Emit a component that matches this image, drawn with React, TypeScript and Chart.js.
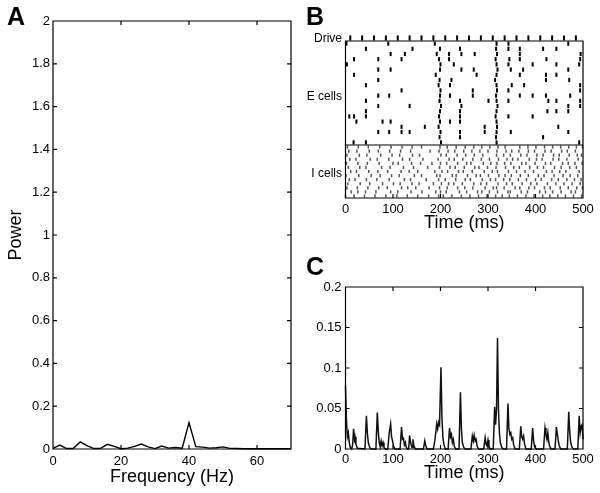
import React, { useEffect, useRef } from 'react';
import { Chart, registerables } from 'chart.js';

Chart.register(...registerables);

const FONT = '"Liberation Sans", Arial, Helvetica, sans-serif';
Chart.defaults.font.family = FONT;
Chart.defaults.color = '#000';

// ---------------- Panel A: power spectrum ----------------
const freqHz = [0, 2, 4, 6, 8, 10, 12, 14, 16, 18, 20, 22, 24, 26, 28, 30, 32, 34, 36, 38, 40, 42, 44, 46, 48, 50, 52, 54, 56, 58, 60, 62, 64, 66, 68, 70];
const power = [0.003, 0.018, 0.002, 0.003, 0.033, 0.016, 0.002, 0.003, 0.022, 0.012, 0.001, 0.004, 0.012, 0.023, 0.01, 0.002, 0.014, 0.004, 0.007, 0.004, 0.123, 0.011, 0.009, 0.004, 0.006, 0.01, 0.003, 0.002, 0.001, 0.001, 0.001, 0.001, 0.001, 0.001, 0.001, 0.001];
const freqTicks = [0, 20, 40, 60];
const powerTicks = [0, 0.2, 0.4, 0.6, 0.8, 1, 1.2, 1.4, 1.6, 1.8, 2];
const powerTickLabels = ['0', '0.2', '0.4', '0.6', '0.8', '1', '1.2', '1.4', '1.6', '1.8', '2'];

// ---------------- Panel B: raster ----------------
const driveTimes = [10, 35, 60, 85, 110, 135, 160, 185, 210, 235, 260, 285, 310, 335, 360, 385, 410, 435, 460, 485];
const eSpikeRows: number[][] = [
  [2, 90, 188, 318, 343, 469],
  [43, 141, 199, 241, 317, 343, 367, 416, 444],
  [95, 125, 192, 218, 244, 272, 319, 367, 495],
  [18, 69, 118, 197, 218, 316, 345, 367, 423, 494],
  [3, 200, 228, 318, 343, 394, 444, 492],
  [69, 95, 199, 244, 270, 320, 348, 374, 469],
  [18, 190, 276, 318, 367, 422, 444],
  [69, 198, 223, 315, 422, 471],
  [43, 196, 220, 318, 350, 376, 494],
  [118, 200, 268, 319, 343, 494],
  [69, 92, 199, 220, 268, 317, 367, 394, 422, 473],
  [43, 198, 241, 301, 318, 343, 427, 444, 494],
  [69, 135, 201, 244, 320, 469, 494],
  [43, 199, 241, 318, 425, 444, 469],
  [8, 18, 43, 197, 241, 316, 343, 394],
  [23, 78, 95, 199, 220, 241, 318],
  [118, 167, 196, 293, 319, 448],
  [69, 92, 118, 135, 200, 241, 293, 318, 348, 469],
  [198, 241, 317, 416],
  [17, 43, 201, 318, 492],
];
const iSpikeRows: number[][] = [
  [4, 27, 48, 72, 96, 119, 140, 160, 199, 214, 233, 252, 270, 287, 304, 321, 336, 367, 384, 401, 419, 436, 453, 470, 486, 499],
  [7, 24, 50, 69, 93, 116, 137, 178, 197, 216, 230, 249, 266, 283, 300, 319, 338, 350, 365, 385, 398, 420, 433, 455, 467, 484],
  [3, 29, 45, 74, 98, 114, 141, 156, 201, 212, 235, 253, 271, 289, 318, 333, 347, 369, 382, 403, 416, 438, 450, 471, 488, 497],
  [9, 22, 52, 67, 91, 120, 135, 163, 195, 218, 229, 247, 268, 286, 303, 322, 340, 352, 363, 387, 402, 414, 437, 449, 466, 490],
  [2, 26, 46, 71, 100, 111, 139, 158, 182, 200, 213, 236, 255, 264, 290, 306, 319, 335, 348, 371, 380, 399, 421, 432, 457, 469, 483, 498],
  [6, 30, 43, 76, 94, 122, 143, 173, 198, 220, 231, 250, 272, 281, 299, 317, 337, 354, 366, 388, 404, 417, 440, 454, 472, 486],
  [11, 23, 49, 68, 89, 117, 134, 152, 188, 203, 215, 238, 248, 267, 292, 309, 320, 343, 360, 378, 396, 423, 435, 451, 464, 492],
  [1, 28, 54, 73, 97, 113, 145, 160, 192, 199, 225, 233, 257, 275, 284, 301, 323, 336, 349, 368, 385, 406, 418, 439, 458, 473, 489],
  [8, 20, 44, 66, 92, 124, 137, 170, 196, 210, 232, 252, 263, 288, 305, 316, 333, 346, 364, 381, 400, 412, 434, 448, 466, 482, 496],
  [5, 31, 51, 78, 101, 115, 140, 155, 185, 202, 217, 228, 246, 270, 285, 297, 321, 339, 351, 372, 390, 403, 425, 443, 460, 477, 494],
  [3, 25, 47, 70, 88, 118, 131, 148, 176, 198, 214, 236, 251, 268, 294, 311, 318, 334, 357, 367, 386, 398, 419, 431, 452, 469, 487, 499],
  [12, 26, 42, 64, 95, 110, 138, 161, 190, 200, 212, 240, 255, 278, 287, 303, 320, 342, 347, 370, 383, 409, 421, 436, 454, 475, 484],
  [0, 18, 40, 62, 85, 108, 130, 152, 175, 196, 206, 224, 244, 262, 280, 298, 316, 330, 345, 362, 380, 397, 415, 430, 447, 463, 480, 497],
];
const rasterLabels = ['I cells', 'E cells', 'Drive'];
const timeTicks = [0, 100, 200, 300, 400, 500];

// ---------------- Panel C: population trace ----------------
const lfpTime = [0, 2, 4, 6, 8, 10, 13, 15, 17, 19, 20, 22, 25, 41, 44, 46, 48, 51, 54, 64, 67, 69, 71, 73, 75, 77, 79, 81, 84, 89, 92, 95, 97, 99, 101, 104, 115, 118, 120, 122, 124, 126, 128, 131, 133, 135, 137, 140, 142, 144, 147, 164, 167, 169, 172, 185, 188, 190, 192, 194, 196, 198, 201, 203, 205, 207, 210, 216, 219, 221, 223, 225, 227, 229, 232, 239, 242, 244, 246, 249, 252, 264, 267, 269, 271, 273, 275, 277, 280, 291, 294, 296, 298, 300, 302, 305, 311, 314, 316, 318, 320, 322, 324, 326, 329, 332, 339, 342, 344, 346, 348, 350, 352, 354, 357, 366, 369, 371, 373, 375, 377, 380, 391, 394, 396, 398, 401, 417, 420, 422, 424, 426, 428, 430, 433, 441, 444, 446, 448, 450, 453, 467, 470, 472, 474, 477, 480, 489, 492, 494, 496, 498, 500];
const lfpValue = [0.078, 0.035, 0.015, 0.02, 0.008, 0.002, 0, 0.005, 0.025, 0.012, 0.015, 0.006, 0.001, 0, 0.041, 0.02, 0.008, 0.002, 0, 0, 0.045, 0.022, 0.008, 0.003, 0.01, 0.004, 0.008, 0.002, 0, 0, 0.02, 0.031, 0.015, 0.01, 0.004, 0, 0, 0.027, 0.012, 0.013, 0.005, 0.008, 0.002, 0, 0, 0.017, 0.008, 0.002, 0.012, 0.004, 0, 0, 0.01, 0.004, 0, 0, 0.01, 0.02, 0.031, 0.025, 0.033, 0.03, 0.101, 0.04, 0.015, 0.006, 0, 0, 0.026, 0.015, 0.018, 0.008, 0.012, 0.003, 0, 0, 0.07, 0.025, 0.008, 0.002, 0, 0, 0.016, 0.01, 0.017, 0.01, 0.012, 0.004, 0, 0, 0.014, 0.006, 0.004, 0.011, 0.003, 0, 0, 0.052, 0.03, 0.05, 0.137, 0.05, 0.02, 0.008, 0.002, 0, 0, 0.056, 0.025, 0.018, 0.02, 0.012, 0.014, 0.005, 0, 0, 0.028, 0.015, 0.012, 0.016, 0.006, 0, 0, 0.026, 0.01, 0.003, 0, 0, 0.026, 0.018, 0.012, 0.02, 0.008, 0.003, 0, 0, 0.027, 0.018, 0.01, 0.004, 0, 0, 0.046, 0.022, 0.008, 0.002, 0, 0, 0.041, 0.02, 0.028, 0.03, 0.012];
const lfpTicks = [0, 0.05, 0.1, 0.15, 0.2];
const lfpTickLabels = ['0', '0.05', '0.1', '0.15', '0.2'];

// ---------------- plugins ----------------
const boxPlugin = {
  id: 'box',
  afterDatasetsDraw(chart: any, _args: any, opts: any) {
    const { ctx, chartArea: ca } = chart;
    const xs = chart.scales.x;
    const ys = chart.scales.y;
    const top = opts.topValue !== undefined ? ys.getPixelForValue(opts.topValue) : ca.top;
    const L = 4;
    ctx.save();
    ctx.strokeStyle = '#000';
    ctx.lineWidth = 1.2;
    ctx.beginPath();
    ctx.moveTo(ca.left, top);
    ctx.lineTo(ca.right, top);
    ctx.lineTo(ca.right, ca.bottom);
    ctx.lineTo(ca.left, ca.bottom);
    ctx.closePath();
    (opts.lines || []).forEach((v: number) => {
      const py = ys.getPixelForValue(v);
      ctx.moveTo(ca.left, py);
      ctx.lineTo(ca.right, py);
    });
    xs.ticks.forEach((t: any) => {
      const px = xs.getPixelForValue(t.value);
      ctx.moveTo(px, ca.bottom);
      ctx.lineTo(px, ca.bottom - L);
      if (opts.topTicks) {
        ctx.moveTo(px, top);
        ctx.lineTo(px, top + L);
      }
    });
    if (opts.yTicks) {
      ys.ticks.forEach((t: any) => {
        const py = ys.getPixelForValue(t.value);
        ctx.moveTo(ca.left, py);
        ctx.lineTo(ca.left + L, py);
        ctx.moveTo(ca.right, py);
        ctx.lineTo(ca.right - L, py);
      });
    }
    ctx.stroke();
    ctx.restore();
  },
};

const letterPlugin = {
  id: 'letter',
  afterDraw(chart: any, _args: any, opts: any) {
    const { ctx } = chart;
    ctx.save();
    ctx.fillStyle = '#000';
    ctx.font = `bold 25px ${FONT}`;
    ctx.textAlign = 'left';
    ctx.textBaseline = 'alphabetic';
    ctx.fillText(opts.text, opts.x, opts.y);
    ctx.restore();
  },
};

function fixedTicks(values: number[]) {
  return (axis: any) => {
    axis.ticks = values.map((v) => ({ value: v }));
  };
}

function baseOptions() {
  return {
    responsive: false,
    animation: false as const,
    events: [] as any[],
  };
}

function makeConfigA(): any {
  return {
    type: 'line',
    data: {
      datasets: [
        {
          data: freqHz.map((f, i) => ({ x: f, y: power[i] })),
          borderColor: '#000',
          borderWidth: 1.4,
          pointRadius: 0,
          tension: 0,
          clip: false,
        },
      ],
    },
    options: {
      ...baseOptions(),
      layout: { padding: { left: 0, right: 9, top: 21, bottom: 0 } },
      plugins: {
        legend: { display: false },
        tooltip: { enabled: false },
        box: { yTicks: true, topTicks: true },
        letter: { text: 'A', x: 7, y: 25 },
      },
      scales: {
        x: {
          type: 'linear',
          min: 0,
          max: 70,
          afterBuildTicks: fixedTicks(freqTicks),
          afterFit: (s: any) => { s.height = 44; },
          grid: { display: false, drawTicks: false },
          border: { display: false },
          ticks: { font: { size: 13 }, padding: 5, maxRotation: 0, callback: (v: any) => String(v) },
          title: { display: true, text: 'Frequency (Hz)', font: { size: 18 }, padding: { top: 0, bottom: 5 } },
        },
        y: {
          type: 'linear',
          min: 0,
          max: 2,
          afterBuildTicks: fixedTicks(powerTicks),
          afterFit: (s: any) => { s.width = 53; },
          grid: { display: false, drawTicks: false },
          border: { display: false },
          ticks: { font: { size: 13 }, padding: 3, callback: (_v: any, i: number) => powerTickLabels[i] },
          title: { display: true, text: 'Power', font: { size: 18 }, padding: { top: 5, bottom: 0 } },
        },
      },
    },
    plugins: [boxPlugin, letterPlugin],
  };
}

// raster vertical layout (scale units)
const B_MAX = 163;
const E_TOP = 157;
const I_TOP = 53;
const E_ROW_H = (E_TOP - I_TOP) / eSpikeRows.length;
const I_ROW_H = I_TOP / iSpikeRows.length;
const DRIVE_Y = 160;
const rasterLabelValues = [24, 101, 159];

function makeConfigB(): any {
  const ePoints: { x: number; y: number }[] = [];
  eSpikeRows.forEach((row, i) => row.forEach((t) => ePoints.push({ x: t, y: E_TOP - (i + 0.5) * E_ROW_H })));
  const iPoints: { x: number; y: number }[] = [];
  iSpikeRows.forEach((row, k) => row.forEach((t) => iPoints.push({ x: t, y: I_TOP - (k + 0.5) * I_ROW_H })));
  const drivePoints = driveTimes.map((t) => ({ x: t, y: DRIVE_Y }));
  const mark = (color: string, r: number, w: number) => ({
    showLine: false,
    pointStyle: 'line',
    pointRotation: 90,
    pointRadius: r,
    pointBorderWidth: w,
    pointBorderColor: color,
    pointBackgroundColor: color,
    borderColor: color,
    clip: false,
  });
  return {
    type: 'scatter',
    data: {
      datasets: [
        { data: drivePoints, ...mark('#000', 2.6, 2) },
        { data: ePoints, ...mark('#000', 2.1, 2) },
        { data: iPoints, ...mark('#555', 1.6, 1.5) },
      ],
    },
    options: {
      ...baseOptions(),
      layout: { padding: { left: 0, right: 17, top: 35, bottom: 0 } },
      plugins: {
        legend: { display: false },
        tooltip: { enabled: false },
        box: { topValue: E_TOP, lines: [I_TOP], yTicks: false, topTicks: false },
        letter: { text: 'B', x: 6, y: 25 },
      },
      scales: {
        x: {
          type: 'linear',
          min: 0,
          max: 500,
          afterBuildTicks: fixedTicks(timeTicks),
          afterFit: (s: any) => { s.height = 42; },
          grid: { display: false, drawTicks: false },
          border: { display: false },
          ticks: { font: { size: 13 }, padding: 4, maxRotation: 0, callback: (v: any) => String(v) },
          title: { display: true, text: 'Time (ms)', font: { size: 18 }, padding: { top: 0, bottom: 6 } },
        },
        y: {
          type: 'linear',
          min: 0,
          max: B_MAX,
          afterBuildTicks: fixedTicks(rasterLabelValues),
          afterFit: (s: any) => { s.width = 45.5; },
          grid: { display: false, drawTicks: false },
          border: { display: false },
          ticks: { font: { size: 12 }, padding: 3.5, callback: (_v: any, i: number) => rasterLabels[i] },
        },
      },
    },
    plugins: [boxPlugin, letterPlugin],
  };
}

function makeConfigC(): any {
  return {
    type: 'line',
    data: {
      datasets: [
        {
          data: lfpTime.map((t, i) => ({ x: t, y: lfpValue[i] })),
          borderColor: '#111',
          borderWidth: 1.5,
          pointRadius: 0,
          tension: 0,
          clip: false,
        },
      ],
    },
    options: {
      ...baseOptions(),
      layout: { padding: { left: 0, right: 17, top: 41, bottom: 0 } },
      plugins: {
        legend: { display: false },
        tooltip: { enabled: false },
        box: { yTicks: true, topTicks: true },
        letter: { text: 'C', x: 6, y: 29 },
      },
      scales: {
        x: {
          type: 'linear',
          min: 0,
          max: 500,
          afterBuildTicks: fixedTicks(timeTicks),
          afterFit: (s: any) => { s.height = 44; },
          grid: { display: false, drawTicks: false },
          border: { display: false },
          ticks: { font: { size: 13 }, padding: 3, maxRotation: 0, callback: (v: any) => String(v) },
          title: { display: true, text: 'Time (ms)', font: { size: 18 }, padding: { top: 0, bottom: 9 } },
        },
        y: {
          type: 'linear',
          min: 0,
          max: 0.2,
          afterBuildTicks: fixedTicks(lfpTicks),
          afterFit: (s: any) => { s.width = 45.5; },
          grid: { display: false, drawTicks: false },
          border: { display: false },
          ticks: { font: { size: 13 }, padding: 4, callback: (_v: any, i: number) => lfpTickLabels[i] },
        },
      },
    },
    plugins: [boxPlugin, letterPlugin],
  };
}

function ChartCanvas(props: { make: () => any; left: number; top: number; width: number; height: number }) {
  const ref = useRef<HTMLCanvasElement | null>(null);
  useEffect(() => {
    if (!ref.current) return;
    const chart = new Chart(ref.current, props.make());
    return () => chart.destroy();
  }, []);
  return (
    <canvas
      ref={ref}
      width={props.width}
      height={props.height}
      style={{ position: 'absolute', left: props.left, top: props.top, width: props.width, height: props.height }}
    />
  );
}

export default function App() {
  return (
    <div style={{ position: 'absolute', left: 0, top: 0, width: 600, height: 493, background: '#fff', overflow: 'hidden' }}>
      <ChartCanvas make={makeConfigA} left={0} top={0} width={300} height={493} />
      <ChartCanvas make={makeConfigB} left={300} top={0} width={300} height={240} />
      <ChartCanvas make={makeConfigC} left={300} top={246} width={300} height={247} />
    </div>
  );
}
